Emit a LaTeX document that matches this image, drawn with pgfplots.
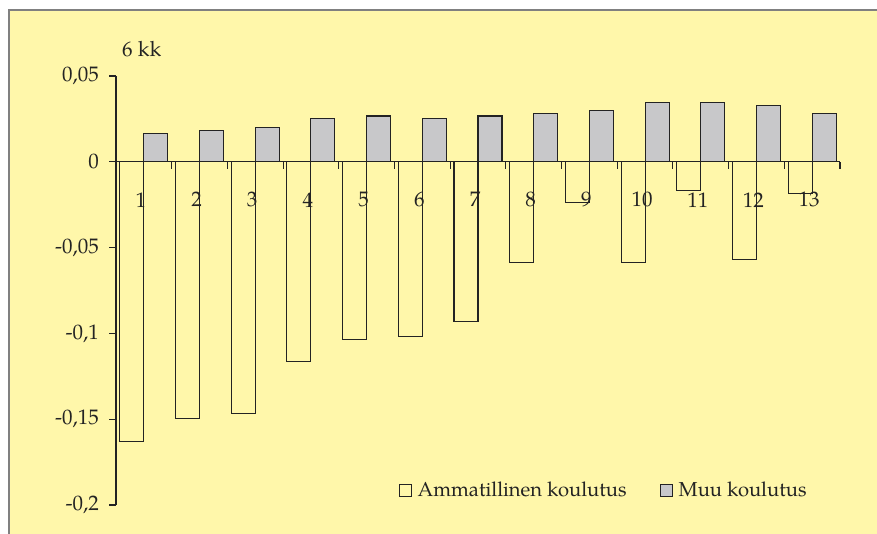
\documentclass[border=0pt]{standalone}
\usepackage{pgfplots}
\pgfplotsset{compat=1.18}
\usepackage{fontspec}
\setmainfont{TeX Gyre Pagella}
\definecolor{bgyellow}{RGB}{255,247,170}
\definecolor{bargray}{RGB}{200,200,202}
\definecolor{ink}{RGB}{35,35,35}
\definecolor{frame}{RGB}{128,128,128}
\begin{document}
\fontsize{21}{25}\selectfont
\begin{tikzpicture}[x=1pt,y=1pt]
\useasboundingbox (0,0) rectangle (877,534);
\fill[white] (0,0) rectangle (877,534);
\fill[bgyellow] (9,0) rectangle (877,524);
\draw[frame, line width=1.2pt] (9,-2) -- (9,524) -- (879,524);
\node[anchor=base west, inner sep=0pt, text=ink] at (122,477) {6 kk};
\begin{axis}[
  at={(116pt,29pt)}, anchor=south west,
  scale only axis, width=724pt, height=429pt,
  xmin=0.5, xmax=13.5, ymin=-0.2, ymax=0.05,
  axis x line*=middle, axis y line*=left,
  axis line style={-, ink, line width=1.2pt},
  every tick/.style={ink, line width=1.1pt},
  tick align=outside, major tick length=7pt,
  xtick={0.5,1.5,...,13.5}, xticklabels={},
  extra x ticks={1,...,13},
  extra x tick labels={1,2,3,4,5,6,7,8,9,10,11,12,13},
  extra x tick style={major tick length=0pt, tick label style={anchor=center, yshift=-38pt, xshift=-3pt}},
  ytick={-0.2,-0.15,-0.1,-0.05,0,0.05},
  yticklabels={{-0,2},{-0,15},{-0,1},{-0,05},{0},{0,05}},
  yticklabel style={text=ink, xshift=-3pt},
  xticklabel style={text=ink},
  ybar=0pt, bar width=24pt,
  clip=false,
  legend columns=2,
  legend style={draw=none, fill=none, at={(0.39,0.033)}, anchor=west, inner sep=0pt,
    text=ink, nodes={inner sep=0pt}, font=\fontsize{20.2}{24}\selectfont,
    /tikz/every odd column/.append style={column sep=6pt},
    /tikz/every even column/.append style={column sep=33pt}},
  legend image code/.code={\draw[#1, line width=1pt] (0pt,-6pt) rectangle (12pt,6pt);},
]
\addplot[draw=ink, fill=none, line width=1.1pt] coordinates {
(1,-0.1628) (2,-0.1494) (3,-0.1465) (4,-0.1163) (5,-0.1035) (6,-0.1017) (7,-0.0930)
(8,-0.0587) (9,-0.0235) (10,-0.0587) (11,-0.0169) (12,-0.0570) (13,-0.0184)};
\addlegendentry{Ammatillinen koulutus}
\addplot[draw=ink, fill=bargray, line width=1.1pt] coordinates {
(1,0.0165) (2,0.0180) (3,0.0198) (4,0.0250) (5,0.0267) (6,0.0250) (7,0.0267)
(8,0.0281) (9,0.0297) (10,0.0347) (11,0.0347) (12,0.0330) (13,0.0281)};
\addlegendentry{Muu koulutus}
\end{axis}
\end{tikzpicture}
\end{document}
